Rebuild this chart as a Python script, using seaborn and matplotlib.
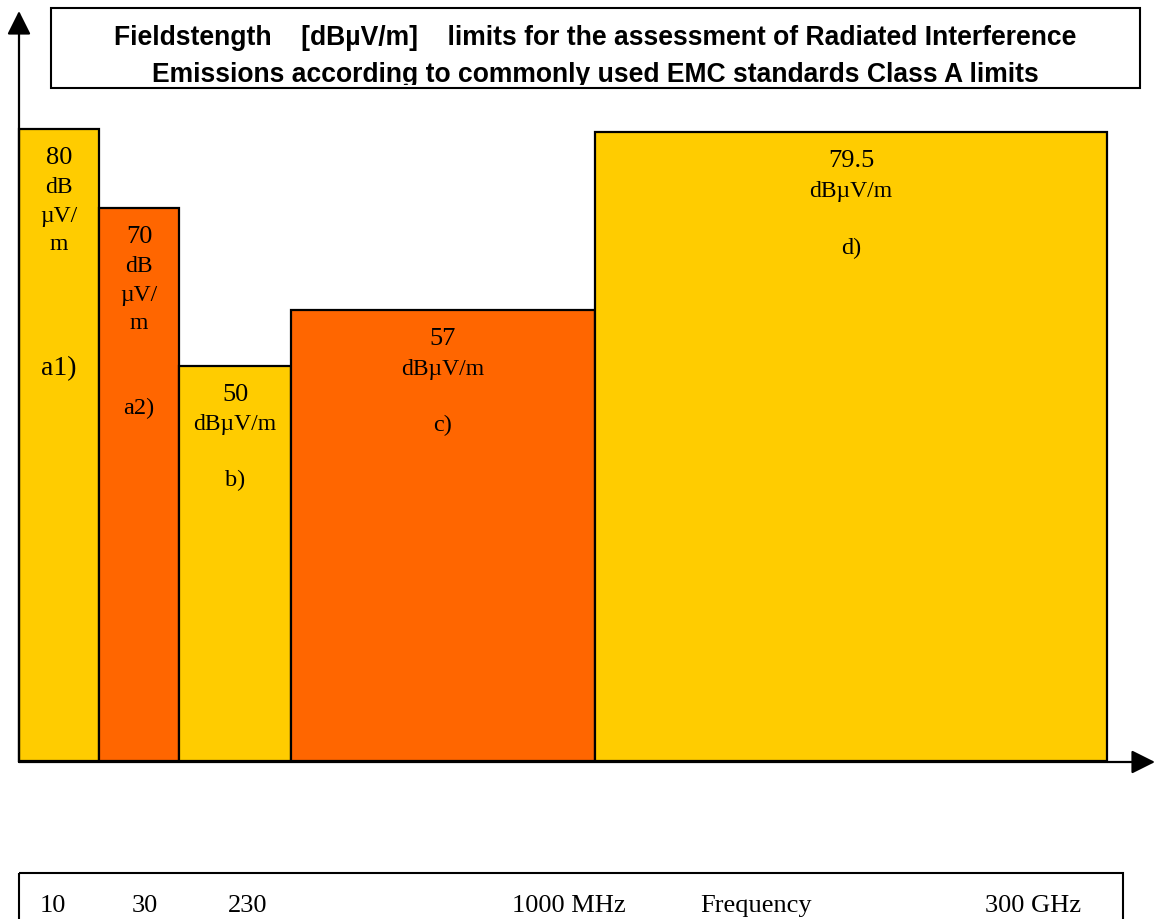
import matplotlib
matplotlib.use("Agg")
import matplotlib.pyplot as plt
import matplotlib.transforms as mtransforms
from matplotlib.patches import Rectangle
import numpy as np
import seaborn as sns

# ---------------- data ----------------
bands = ["a1)", "a2)", "b)", "c)", "d)"]
limits = [80, 70, 50, 57, 79.5]
value_text = ["80", "70", "50", "57", "79.5"]
unit_lines = [["dB", "µV/", "m"], ["dB", "µV/", "m"], ["dBµV/m"], ["dBµV/m"], ["dBµV/m"]]
bar_colors = ["#FFCC00", "#FF6600", "#FFCC00", "#FF6600", "#FFCC00"]
freq_labels = ["10", "30", "230", "1000 MHz", "Frequency", "300 GHz"]
title_lines = ["Fieldstength    [dBµV/m]    limits for the assessment of Radiated Interference",
               "Emissions according to commonly used EMC standards Class A limits"]

# ---------------- layout (pixels) ----------------
W, H = 1155, 920
x_origin, y_origin = 19, 762
px_per_db = 7.906
band_widths = [80, 80, 112, 304, 512]
label_offsets = [239, 200, 114, 114, 115]
label_sizes = [20, 17.5, 17.5, 17.5, 17.5]
freq_label_x = [40, 132, 228, 512, 700, 985]

sns.set_theme(style="white")
plt.rcParams["font.family"] = ["Liberation Serif", "DejaVu Serif"]
plt.rcParams["text.color"] = "black"

fig = plt.figure(figsize=(W / 100, H / 100), dpi=100)
ax = fig.add_axes([0, 0, 1, 1])

sns.barplot(x=bands, y=limits, hue=bands, palette=bar_colors, saturation=1,
            edgecolor="black", linewidth=1.6, errorbar=None, legend=False, ax=ax)

lefts = x_origin + np.concatenate([[0], np.cumsum(band_widths)[:-1]])
for patch, left, w in zip(ax.patches, lefts, band_widths):
    patch.set_x(left)
    patch.set_width(w)

ax.set_xlim(0, W)
ax.set_ylim((y_origin - H) / px_per_db, y_origin / px_per_db)
ax.axis("off")

# bar texts
for i in range(len(bands)):
    cx = lefts[i] + band_widths[i] / 2
    v = limits[i]
    ax.annotate(value_text[i], xy=(cx, v), xytext=(0, -28), textcoords="offset pixels",
                ha="center", va="center", fontsize=19, color="black")
    for j, ln in enumerate(unit_lines[i]):
        ax.annotate(ln, xy=(cx, v), xytext=(0, -(58 + 28.5 * j)), textcoords="offset pixels",
                    ha="center", va="center", fontsize=17, color="black")
    ax.annotate(bands[i], xy=(cx, v), xytext=(0, -label_offsets[i]), textcoords="offset pixels",
                ha="center", va="center", fontsize=label_sizes[i], color="black")

# pixel transform (origin top-left)
pix = mtransforms.Affine2D().scale(1 / W, -1 / H).translate(0, 1) + fig.transFigure

# axes arrows
arrow_kw = dict(arrowstyle="-|>,head_length=1.0,head_width=0.5", mutation_scale=14.4,
                lw=1.6, color="black", shrinkA=0, shrinkB=0)
ax.annotate("", xy=(x_origin, 12), xytext=(x_origin, 763), xycoords=pix, textcoords=pix,
            arrowprops=arrow_kw)
ax.annotate("", xy=(1155, 763), xytext=(x_origin, 763), xycoords=pix, textcoords=pix,
            arrowprops=arrow_kw)

# title box
fig.patches.append(Rectangle((51, 9), 1089, 80, transform=pix, fill=False,
                             edgecolor="black", lw=1.5))
t1 = fig.text(595.5, 45, title_lines[0], transform=pix, ha="center", va="baseline",
              fontsize=19.1, fontweight="bold", color="black",
              family=["Liberation Sans", "DejaVu Sans"])
t2 = fig.text(595.5, 82, title_lines[1], transform=pix, ha="center", va="baseline",
              fontsize=19.1, fontweight="bold", color="black",
              family=["Liberation Sans", "DejaVu Sans"])
clip = Rectangle((51, 9), 1089, 77, transform=pix)
t2.set_clip_path(clip)

# bottom frequency box
fig.patches.append(Rectangle((19, 874), 1104, 60, transform=pix, fill=False,
                             edgecolor="black", lw=1.5))
for lbl, xp in zip(freq_labels, freq_label_x):
    fig.text(xp, 912, lbl, transform=pix, ha="left", va="baseline", fontsize=19,
             color="black")

fig.savefig("out.png", dpi=100)
